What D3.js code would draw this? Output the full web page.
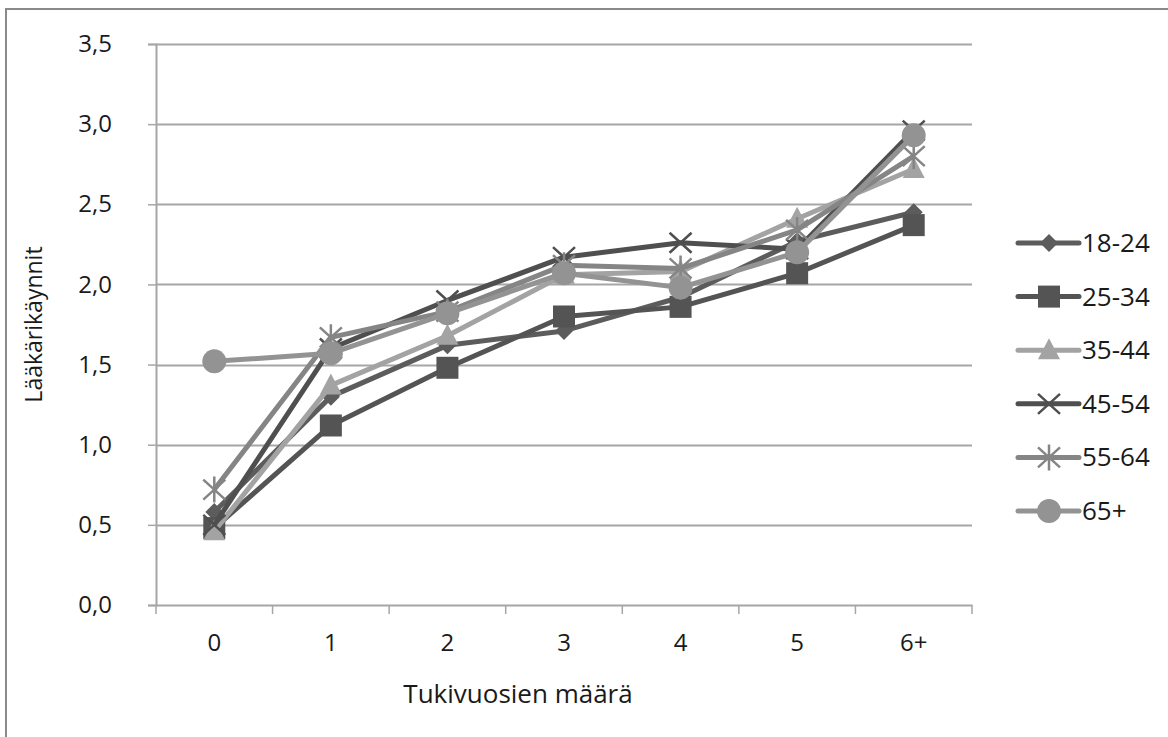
<!DOCTYPE html>
<html>
<head>
<meta charset="utf-8">
<script src="https://cdn.jsdelivr.net/npm/d3@7"></script>
<style>
  body { margin: 0; background: #fff; }
  svg { display: block; font-family: "Open Sans", "Liberation Sans", sans-serif; }
</style>
</head>
<body>
<svg id="chart" width="1168" height="737"></svg>
<script>
// data
const categories = ['0', '1', '2', '3', '4', '5', '6+'];
const seriesNames = ['18-24', '25-34', '35-44', '45-54', '55-64', '65+'];
const v1824 = [0.58, 1.30, 1.62, 1.71, 1.92, 2.27, 2.45];
const v2534 = [0.48, 1.12, 1.48, 1.80, 1.86, 2.07, 2.37];
const v3544 = [0.46, 1.37, 1.68, 2.06, 2.08, 2.41, 2.72];
const v4554 = [0.50, 1.60, 1.90, 2.17, 2.26, 2.22, 2.96];
const v5564 = [0.72, 1.67, 1.83, 2.12, 2.10, 2.34, 2.80];
const v65 = [1.52, 1.57, 1.82, 2.07, 1.98, 2.20, 2.93];
const yTicks = [0, 0.5, 1, 1.5, 2, 2.5, 3, 3.5];

const values = [v1824, v2534, v3544, v4554, v5564, v65];
const colors = ['#5c5c5c', '#545454', '#a3a3a3', '#4f4f4f', '#858585', '#939393'];
const markers = ['diamond', 'square', 'triangle', 'x', 'asterisk', 'circle'];

const svg = d3.select('#chart');
const margin = {left: 156, right: 196, top: 44, bottom: 132};
const W = 1168, H = 737;
const font = '"Open Sans", "Liberation Sans", sans-serif';

// outer frame
svg.append('rect').attr('x', 6).attr('y', 9).attr('width', 1170).attr('height', 740)
  .attr('fill', 'none').attr('stroke', '#8a8a8a').attr('stroke-width', 2);

const x = d3.scaleBand().domain(categories).range([margin.left, W - margin.right]);
const y = d3.scaleLinear().domain([0, 3.5]).range([H - margin.bottom, margin.top]);

const fmt = d => d3.format('.1f')(d).replace('.', ',');

// gridlines
svg.append('g').selectAll('line').data(yTicks.filter(d => d > 0)).join('line')
  .attr('x1', margin.left).attr('x2', W - margin.right)
  .attr('y1', d => Math.round(y(d)) + 0.5).attr('y2', d => Math.round(y(d)) + 0.5)
  .attr('stroke', '#a6a6a6').attr('stroke-width', 2);

// y axis
const yAxis = svg.append('g').attr('transform', `translate(${margin.left},0)`)
  .call(d3.axisLeft(y).tickValues(yTicks).tickFormat(fmt).tickSize(8).tickPadding(36))
  .attr('font-family', font);
yAxis.select('.domain').attr('stroke', '#a6a6a6').attr('stroke-width', 2);
yAxis.selectAll('.tick line').attr('stroke', '#a6a6a6').attr('stroke-width', 1.5);
yAxis.selectAll('text').attr('font-size', 24).attr('fill', '#1a1a1a');

// x axis
const xAxis = svg.append('g').attr('transform', `translate(0,${H - margin.bottom})`)
  .call(d3.axisBottom(x).tickSize(0).tickPadding(29))
  .attr('font-family', font);
xAxis.select('.domain').attr('stroke', '#a6a6a6').attr('stroke-width', 2);
xAxis.selectAll('text').attr('font-size', 24).attr('fill', '#1a1a1a');
xAxis.selectAll('.bt').data(d3.range(categories.length + 1)).join('line')
  .attr('x1', i => margin.left + i * x.step()).attr('x2', i => margin.left + i * x.step())
  .attr('y1', 0).attr('y2', 9).attr('stroke', '#a6a6a6').attr('stroke-width', 1.5);

// titles
svg.append('text').attr('x', 518).attr('y', 703)
  .attr('text-anchor', 'middle').attr('font-size', 26).attr('fill', '#1a1a1a').text('Tukivuosien määrä');
svg.append('text').attr('transform', `translate(42,${y(1.75)}) rotate(-90)`)
  .attr('text-anchor', 'middle').attr('font-size', 23).attr('fill', '#1a1a1a').text('Lääkärikäynnit');

function drawMarker(g, type, color) {
  if (type === 'diamond') {
    g.append('path').attr('d', 'M0,-9L9,0L0,9L-9,0Z').attr('fill', color);
  } else if (type === 'square') {
    g.append('rect').attr('x', -11).attr('y', -11).attr('width', 22).attr('height', 22).attr('fill', color);
  } else if (type === 'triangle') {
    g.append('path').attr('d', 'M0,-12L11,9L-11,9Z').attr('fill', color);
  } else if (type === 'x') {
    g.append('path').attr('d', 'M-11,-10L11,10M-11,10L11,-10').attr('stroke', color).attr('stroke-width', 2.5);
  } else if (type === 'asterisk') {
    g.append('path').attr('d', 'M-11,-10L11,10M-11,10L11,-10M0,-13L0,13').attr('stroke', color).attr('stroke-width', 2.5);
  } else {
    g.append('circle').attr('r', 12).attr('fill', color);
  }
}

const line = d3.line().x((d, i) => x(categories[i]) + x.bandwidth() / 2).y(d => y(d));

seriesNames.forEach((name, s) => {
  svg.append('path').datum(values[s]).attr('d', line)
    .attr('fill', 'none').attr('stroke', colors[s]).attr('stroke-width', 5)
    .attr('stroke-linejoin', 'round');
  values[s].forEach((v, i) => {
    const g = svg.append('g').attr('transform', `translate(${x(categories[i]) + x.bandwidth() / 2},${y(v)})`);
    drawMarker(g, markers[s], colors[s]);
  });
});

// legend
const legend = svg.append('g').attr('transform', 'translate(1018,243)');
seriesNames.forEach((name, s) => {
  const g = legend.append('g').attr('transform', `translate(0,${s * 53.6})`);
  g.append('line').attr('x1', 0).attr('x2', 61).attr('stroke', colors[s]).attr('stroke-width', 5)
    .attr('stroke-linecap', 'round');
  const m = g.append('g').attr('transform', 'translate(31,0)');
  drawMarker(m, markers[s], colors[s]);
  g.append('text').attr('x', 64).attr('y', 9).attr('font-size', 26).attr('fill', '#1a1a1a').text(name);
});
</script>
</body>
</html>
